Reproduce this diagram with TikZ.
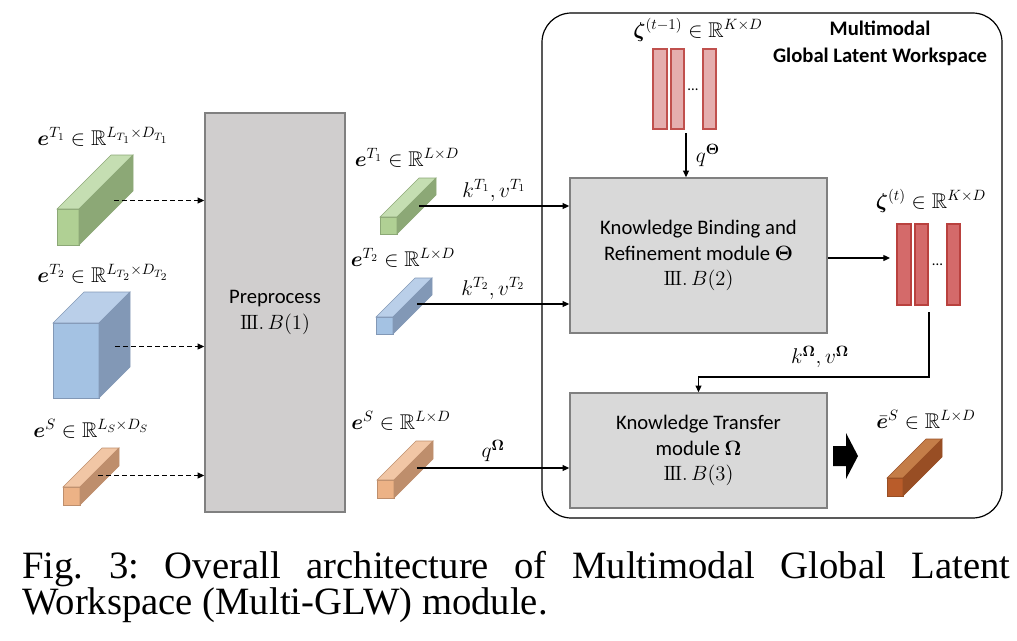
\RequirePackage{fix-cm}
\documentclass[tikz,border=0pt]{standalone}
\usepackage{amsmath,amssymb,bm}
\usepackage[no-math]{fontspec}
\setmainfont{Carlito}
\newfontfamily\capfont{Liberation Serif}
\usetikzlibrary{arrows.meta}

\definecolor{grnF}{RGB}{176,208,148}
\definecolor{grnT}{RGB}{197,222,178}
\definecolor{grnS}{RGB}{140,168,118}
\definecolor{bluF}{RGB}{164,194,227}
\definecolor{bluT}{RGB}{186,207,233}
\definecolor{bluS}{RGB}{130,152,182}
\definecolor{orgF}{RGB}{236,178,134}
\definecolor{orgT}{RGB}{241,198,165}
\definecolor{orgS}{RGB}{190,142,108}
\definecolor{outF}{RGB}{185,92,42}
\definecolor{outT}{RGB}{196,125,72}
\definecolor{outS}{RGB}{152,78,36}
\definecolor{zPink}{RGB}{229,174,174}
\definecolor{zPinkD}{RGB}{192,80,77}
\definecolor{zRed}{RGB}{212,106,106}
\definecolor{zRedD}{RGB}{185,65,62}
\definecolor{preGray}{RGB}{208,206,206}
\definecolor{modGray}{RGB}{217,217,217}
\definecolor{boxEdge}{RGB}{128,128,128}

\tikzstyle{prebox} = [draw=boxEdge, fill=preGray, line width=1.2pt, minimum width=105pt, minimum height=299.25pt, align=center, font=\fontsize{15.5}{19}\selectfont]
\tikzstyle{module} = [draw=boxEdge, fill=modGray, line width=1.2pt, minimum width=192.75pt, align=center, font=\fontsize{15.5}{19}\selectfont]
\tikzstyle{lbl} = [inner sep=0pt, font=\fontsize{16}{19}\selectfont]
\tikzstyle{arr} = [-{Triangle[length=5pt,width=4.5pt]}, line width=0.9pt]
\tikzstyle{dasharr} = [arr, line width=1pt, dash pattern=on 3.5pt off 2.5pt]
\tikzstyle{zoldbar} = [draw=zPinkD, fill=zPink, line width=0.8pt]
\tikzstyle{znewbar} = [draw=zRedD, fill=zRed, line width=0.8pt]
\tikzstyle{caption} = [anchor=base west, inner sep=0pt, font=\capfont\fontsize{29}{25}\selectfont]

\newcommand{\secref}[1]{$\mathrm{I\mkern-1.5mu I\mkern-1.5mu I}.\,B(#1)$}

% front x, front top y, width, height, depth, front, top, side
\newcommand{\cuboid}[8]{%
  \filldraw[draw=#8, fill=#6, line width=0.4pt] (#1,#2) rectangle ({#1+#3},{#2+#4});
  \filldraw[draw=#8, fill=#7, line width=0.4pt] (#1,#2) -- ({#1+#5},{#2-#5}) -- ({#1+#3+#5},{#2-#5}) -- ({#1+#3},#2) -- cycle;
  \filldraw[draw=#8, fill=#8, line width=0.4pt] ({#1+#3},#2) -- ({#1+#3+#5},{#2-#5}) -- ({#1+#3+#5},{#2+#4-#5}) -- ({#1+#3},{#2+#4}) -- cycle;
}

\begin{document}
\begin{tikzpicture}[x=0.75pt, y=-0.75pt]
		\useasboundingbox (0,0) rectangle (1017,640);
		% workspace frame
		\draw[line width=0.9pt, rounded corners=22pt] (542,13) rectangle (1002,518);
		\node[font=\bfseries\fontsize{15.5}{20.25}\selectfont, align=center] (title) at (880,43.5) {Multimodal\\Global Latent Workspace};

		% inputs
		\node[lbl] (lT1) at (103,137) {$\bm{e}^{T_1} \in \mathbb{R}^{L_{T_1}\times D_{T_1}}$};
		\node[lbl] (lT2) at (103,274) {$\bm{e}^{T_2} \in \mathbb{R}^{L_{T_2}\times D_{T_2}}$};
		\node[lbl] (lS) at (91,429) {$\bm{e}^{S} \in \mathbb{R}^{L_{S}\times D_{S}}$};
		\cuboid{57}{209}{22}{36}{54}{grnF}{grnT}{grnS}
		\cuboid{53}{323}{46}{75}{31}{bluF}{bluT}{bluS}
		\cuboid{63}{487}{17}{18}{39}{orgF}{orgT}{orgS}
		\coordinate (iT1) at (114,200.5);
		\coordinate (iT2) at (115,346.5);
		\coordinate (iS) at (98,475.5);

		\node[prebox] (pre) at (275,312.5) {Preprocess\\\secref{1}};
		\draw[dasharr] (iT1) -- (iT1 -| pre.west);
		\draw[dasharr] (iT2) -- (iT2 -| pre.west);
		\draw[dasharr] (iS) -- (iS -| pre.west);

		% preprocessed tokens
		\node[lbl] (mlT1) at (407,158) {$\bm{e}^{T_1} \in \mathbb{R}^{L\times D}$};
		\node[lbl] (mlT2) at (403,258) {$\bm{e}^{T_2} \in \mathbb{R}^{L\times D}$};
		\node[lbl] (mlS) at (401,421) {$\bm{e}^{S} \in \mathbb{R}^{L\times D}$};
		\cuboid{380}{217}{17}{17}{39}{grnF}{grnT}{grnS}
		\cuboid{376}{317}{17}{17}{39}{bluF}{bluT}{bluS}
		\cuboid{377}{480}{17}{18}{39}{orgF}{orgT}{orgS}
		\coordinate (mT1) at (419,206);
		\coordinate (mT2) at (417,304);
		\coordinate (mS) at (417,468);

		% modules
		\node[module, minimum height=116.25pt] (bind) at (698.5,255.5) {Knowledge Binding and\\Refinement module $\bm{\Theta}$\\\secref{2}};
		\node[module, minimum height=86.25pt] (trans) at (698.5,450.5) {Knowledge Transfer\\module $\bm{\Omega}$\\\secref{3}};
		\draw[arr] (mT1) -- (mT1 -| bind.west) node[lbl, midway, above=3pt] {$k^{T_1}, v^{T_1}$};
		\draw[arr] (mT2) -- (mT2 -| bind.west) node[lbl, midway, above=3pt] {$k^{T_2}, v^{T_2}$};
		\draw[arr] (mS) -- (mS -| trans.west) node[lbl, midway, above=4pt] {$q^{\bm{\Omega}}$};

		% previous workspace state
		\node[lbl] (lzold) at (698,30) {$\bm{\zeta}^{(t-1)} \in \mathbb{R}^{K\times D}$};
		\draw[zoldbar] (653,49) rectangle (667,129);
		\draw[zoldbar] (671,49) rectangle (684,129);
		\draw[zoldbar] (703,49) rectangle (716,129);
		\node[inner sep=0pt, font=\fontsize{11}{11}\selectfont] (zolddots) at (693,90) {...};
		\coordinate (zold) at (686,133);
		\draw[arr] (zold) -- (zold |- bind.north) node[lbl, midway, right=7pt] {$q^{\bm{\Theta}}$};

		% updated workspace state
		\node[lbl] (lznew) at (931,201) {$\bm{\zeta}^{(t)} \in \mathbb{R}^{K\times D}$};
		\draw[znewbar] (897,224) rectangle (911,305);
		\draw[znewbar] (915,224) rectangle (928,305);
		\draw[znewbar] (947,224) rectangle (960,305);
		\node[inner sep=0pt, font=\fontsize{11}{11}\selectfont] (znewdots) at (937.5,265) {...};
		\coordinate (znew) at (890,258);
		\coordinate (zout) at (929,312);
		\draw[arr] (bind.east |- znew) -- (znew);
		\draw[arr] (zout) -- (929,377) -- (trans.north |- 0,377) -- (trans.north);
		\node[lbl] (lkv) at (820,357) {$k^{\bm{\Omega}}, v^{\bm{\Omega}}$};

		% output
		\fill (833,446) -- (846,446) -- (846,433) -- (858,456) -- (846,479) -- (846,466) -- (833,466) -- cycle;
		\node[lbl] (lout) at (926,420) {$\bar{\bm{e}}^{S} \in \mathbb{R}^{L\times D}$};
		\cuboid{887}{478}{16}{18}{39}{outF}{outT}{outS}

		% caption
		\node[caption] (cap1) at (22,578) {\frenchspacing\makebox[741pt][s]{Fig. 3: Overall architecture of Multimodal Global Latent}};
		\node[caption] (cap2) at (22,614) {Workspace (Multi-GLW) module.};
		\end{tikzpicture}
\end{document}
